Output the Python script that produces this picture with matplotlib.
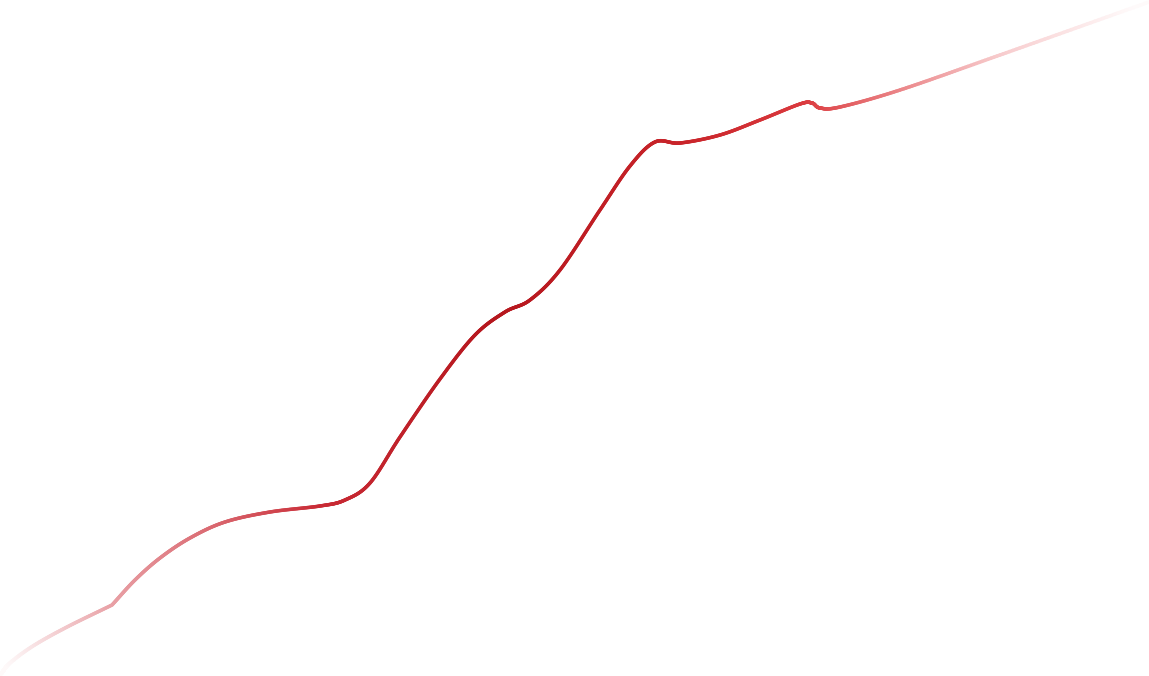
import numpy as np
import matplotlib
matplotlib.use("Agg")
import matplotlib.pyplot as plt
from matplotlib.collections import LineCollection
from matplotlib.colors import to_rgb

# Data (x position, value)
x_vals = [1, 10, 33, 67, 112, 135, 160, 190, 225, 270, 320, 345, 370, 400, 440, 475, 505,
          530, 560, 600, 630, 655, 680, 720, 760, 800, 812, 820, 840, 900, 1000, 1149]
y_vals = [2, 13, 30, 49, 71, 96, 118, 138, 154, 164, 170, 176, 193, 239, 297, 341, 364,
          376, 406, 466, 510, 534, 533, 541, 556, 572, 573, 568, 569, 586, 621, 674]
corner_idx = [4]  # sharp joint in the line

# Gradient stops (fraction of width)
grad_pos = [0.0, 0.28, 0.43, 0.60, 0.71, 1.0]
grad_col = ["#d0303c", "#c61f2a", "#b30f16", "#c92228", "#dc3c40", "#ec6066"]
alpha_pos = [0.0, 0.10, 0.28, 0.70, 0.87, 1.0]
alpha_val = [0.0, 0.45, 0.95, 1.0, 0.30, 0.0]


def catmull(xs, ys, n=40):
    xs = np.asarray(xs, float); ys = np.asarray(ys, float)
    px, py = [], []
    N = len(xs)
    mx = np.zeros(N); my = np.zeros(N)
    for i in range(N):
        if i == 0:
            mx[i] = xs[1] - xs[0]; my[i] = ys[1] - ys[0]
        elif i == N - 1:
            mx[i] = xs[-1] - xs[-2]; my[i] = ys[-1] - ys[-2]
        else:
            mx[i] = (xs[i + 1] - xs[i - 1]) / 2; my[i] = (ys[i + 1] - ys[i - 1]) / 2
    for i in range(N - 1):
        t = np.linspace(0, 1, n, endpoint=False)
        h00 = 2 * t**3 - 3 * t**2 + 1; h10 = t**3 - 2 * t**2 + t
        h01 = -2 * t**3 + 3 * t**2; h11 = t**3 - t**2
        m0x, m0y = mx[i], my[i]
        m1x, m1y = mx[i + 1], my[i + 1]
        if i in corner_idx:
            m0x, m0y = xs[i + 1] - xs[i], ys[i + 1] - ys[i]
        if i + 1 in corner_idx:
            m1x, m1y = xs[i + 1] - xs[i], ys[i + 1] - ys[i]
        px.append(h00 * xs[i] + h10 * m0x + h01 * xs[i + 1] + h11 * m1x)
        py.append(h00 * ys[i] + h10 * m0y + h01 * ys[i + 1] + h11 * m1y)
    px.append([xs[-1]]); py.append([ys[-1]])
    return np.concatenate(px), np.concatenate(py)


fig = plt.figure(figsize=(11.49, 6.76), dpi=100)
ax = fig.add_axes([0, 0, 1, 1])
ax.set_xlim(0, 1149)
ax.set_ylim(0, 676)
ax.axis("off")

sx, sy = catmull(x_vals, y_vals)
pts = np.column_stack([sx, sy]).reshape(-1, 1, 2)
segs = np.concatenate([pts[:-1], pts[1:]], axis=1)
mid = (sx[:-1] + sx[1:]) / 2
f = mid / 1149.0

gc = np.array([to_rgb(c) for c in grad_col])
r = np.interp(f, grad_pos, gc[:, 0])
g = np.interp(f, grad_pos, gc[:, 1])
b = np.interp(f, grad_pos, gc[:, 2])
a = np.clip(np.interp(f, alpha_pos, alpha_val), 0.03, 1)
cols = np.column_stack([r * a + (1 - a), g * a + (1 - a), b * a + (1 - a)])

lc = LineCollection(segs, colors=cols, linewidths=2.5, capstyle="round", joinstyle="round",
                    antialiased=True)
ax.add_collection(lc)

fig.savefig("out.png", dpi=100)
